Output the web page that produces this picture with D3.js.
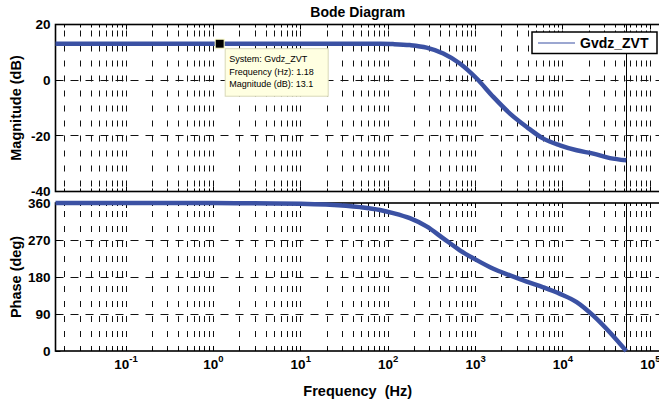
<!DOCTYPE html>
<html>
<head>
<meta charset="utf-8">
<script src="https://cdn.jsdelivr.net/npm/d3@7/dist/d3.min.js"></script>
<style>
  body { margin: 0; background: #fff; }
  svg { display: block; }
  text { font-family: "Liberation Sans", Arial, Helvetica, sans-serif; fill: #000; }
</style>
</head>
<body>
<svg id="chart" width="659" height="405"></svg>
<script>
// Frequency response of Gvdz_ZVT (discrete-time, response stops at Nyquist)
const freqHz = [0.0156, 0.1, 1, 5, 10, 21.6, 47.5, 80.5, 114, 177, 275, 427, 661, 1030,
                1596, 2477, 3845, 5960, 9250, 14350, 22240, 34500, 53000];
const magnitudeDb = [13.1, 13.1, 13.1, 13.1, 13.1, 13.1, 13.1, 13.05, 12.95, 12.6, 11.7, 9.6, 6.0, 0.6,
                     -6.0, -12.0, -16.8, -21.0, -23.4, -25.2, -26.4, -28.0, -28.8];
const phaseDeg = [360, 360, 359.8, 359, 358, 356, 350, 343, 335.5, 323, 303, 274, 245, 221,
                  200, 184, 169, 155, 139, 119, 86, 45, 0];
const nyquistHz = 53000;

const freqDomain = [0.0156, 129000];
const decadeExponents = [-1, 0, 1, 2, 3, 4, 5];
const magDomain = [-40, 20];
const magTicks = [-40, -20, 0, 20];
const phaseDomain = [0, 360];
const phaseTicks = [0, 90, 180, 270, 360];

const seriesName = "Gvdz_ZVT";
const tipFreq = 1.18;
const tipMag = 13.1;
const tipLines = ["System: Gvdz_ZVT", "Frequency (Hz): 1.18", "Magnitude (dB): 13.1"];

const lineColor = "#3b51a3";
const svg = d3.select("#chart");

const left = 55.5, right = 660;
const x = d3.scaleLog().domain(freqDomain).range([left, right]);
// snap thin lines onto pixel centres so they render crisp
const px = v => Math.round(v - 0.5) + 0.5;

const magPanel = { top: 24.5, bottom: 191.5 };
const phasePanel = { top: 203, bottom: 351 };
const yMag = d3.scaleLinear().domain(magDomain).range([magPanel.bottom, magPanel.top]);
const yPhase = d3.scaleLinear().domain(phaseDomain).range([phasePanel.bottom, phasePanel.top]);

// every 1..9 x 10^k line inside the frequency range
const gridFreqs = [];
for (let k = -2; k <= 5; k++) {
  for (let m = 1; m <= 9; m++) {
    const f = m * Math.pow(10, k);
    if (f > freqDomain[0] && f < freqDomain[1]) gridFreqs.push({ f, major: m === 1 });
  }
}

function drawPanel(panel, y, ticks, dashOffset) {
  const g = svg.append("g");
  // vertical dashed grid
  g.selectAll("line.vgrid").data(gridFreqs).join("line")
    .attr("x1", d => px(x(d.f))).attr("x2", d => px(x(d.f)))
    .attr("y1", panel.top).attr("y2", panel.bottom)
    .attr("stroke", "#111").attr("stroke-width", 1)
    .attr("stroke-dasharray", "6,9").attr("stroke-dashoffset", dashOffset);
  // horizontal dashed grid at major ticks
  g.selectAll("line.hgrid").data(ticks.filter(t => y(t) > panel.top + 1 && y(t) < panel.bottom - 1)).join("line")
    .attr("x1", left).attr("x2", right)
    .attr("y1", d => px(y(d))).attr("y2", d => px(y(d)))
    .attr("stroke", "#111").attr("stroke-width", 1)
    .attr("stroke-dasharray", "8,7");
  // x ticks inside, bottom and top
  [panel.bottom, panel.top].forEach((yy, i) => {
    const dir = i === 0 ? -1 : 1;
    g.selectAll(null).data(gridFreqs).join("line")
      .attr("x1", d => px(x(d.f))).attr("x2", d => px(x(d.f)))
      .attr("y1", yy).attr("y2", d => yy + dir * (d.major ? 5 : 3))
      .attr("stroke", "#000").attr("stroke-width", 1);
  });
  // y ticks inside on the left
  g.selectAll(null).data(ticks).join("line")
    .attr("x1", left).attr("x2", left + 5)
    .attr("y1", d => px(y(d))).attr("y2", d => px(y(d)))
    .attr("stroke", "#000").attr("stroke-width", 1);
  // frame
  g.append("rect")
    .attr("x", left).attr("y", panel.top)
    .attr("width", right - left).attr("height", panel.bottom - panel.top)
    .attr("fill", "none").attr("stroke", "#000").attr("stroke-width", 1.6);
  // y tick labels
  g.selectAll(null).data(ticks).join("text")
    .attr("x", left - 5).attr("y", d => y(d))
    .attr("dy", "0.36em").attr("text-anchor", "end")
    .attr("font-size", 13.5).attr("font-weight", "bold")
    .text(d => d);
  // Nyquist frequency marker
  g.append("line")
    .attr("x1", px(x(nyquistHz))).attr("x2", px(x(nyquistHz)))
    .attr("y1", panel.top).attr("y2", panel.bottom)
    .attr("stroke", "#000").attr("stroke-width", 1);
  return g;
}

drawPanel(magPanel, yMag, magTicks, 9);
drawPanel(phasePanel, yPhase, phaseTicks, 7);

const pts = freqHz.map((f, i) => ({ f, mag: magnitudeDb[i], ph: phaseDeg[i] }));

svg.append("path").datum(pts)
  .attr("fill", "none").attr("stroke", lineColor).attr("stroke-width", 4.5)
  .attr("stroke-linejoin", "round")
  .attr("d", d3.line().x(d => x(d.f)).y(d => yMag(d.mag)).curve(d3.curveMonotoneX));

svg.append("path").datum(pts)
  .attr("fill", "none").attr("stroke", lineColor).attr("stroke-width", 4.5)
  .attr("stroke-linejoin", "round")
  .attr("d", d3.line().x(d => x(d.f)).y(d => yPhase(d.ph)).curve(d3.curveMonotoneX));

// x tick labels 10^k
const xl = svg.selectAll("text.xtick").data(decadeExponents).join("text")
  .attr("class", "xtick")
  .attr("x", d => x(Math.pow(10, d))).attr("y", 369)
  .attr("text-anchor", "middle")
  .attr("font-size", 13.5).attr("font-weight", "bold");
xl.append("tspan").text("10");
xl.append("tspan").attr("dy", -7).attr("font-size", 9.5).text(d => d);

// titles and axis labels
svg.append("text").attr("x", (left + right) / 2).attr("y", 17)
  .attr("text-anchor", "middle").attr("font-size", 14).attr("font-weight", "bold")
  .text("Bode Diagram");
svg.append("text").attr("x", (left + right) / 2).attr("y", 396)
  .attr("text-anchor", "middle").attr("font-size", 14.5).attr("font-weight", "bold")
  .attr("xml:space", "preserve").style("white-space", "pre")
  .text("Frequency  (Hz)");
svg.append("text")
  .attr("transform", `translate(21,${(magPanel.top + magPanel.bottom) / 2}) rotate(-90)`)
  .attr("text-anchor", "middle").attr("font-size", 14.5).attr("font-weight", "bold")
  .text("Magnitude (dB)");
svg.append("text")
  .attr("transform", `translate(21,${(phasePanel.top + phasePanel.bottom) / 2}) rotate(-90)`)
  .attr("text-anchor", "middle").attr("font-size", 14.5).attr("font-weight", "bold")
  .text("Phase (deg)");

// legend
const lg = svg.append("g");
lg.append("rect").attr("x", 532).attr("y", 32).attr("width", 125).attr("height", 21.5)
  .attr("fill", "#fff").attr("stroke", "#000").attr("stroke-width", 1.5);
lg.append("line").attr("x1", 538).attr("x2", 575).attr("y1", 43).attr("y2", 43)
  .attr("stroke", lineColor).attr("stroke-width", 1.2);
lg.append("text").attr("x", 580).attr("y", 48.3)
  .attr("font-size", 14).attr("font-weight", "bold").text(seriesName);

// data tip
const tx = x(tipFreq), ty = yMag(tipMag);
const tg = svg.append("g");
tg.append("rect").attr("x", tx + 5.5).attr("y", ty + 5).attr("width", 103).attr("height", 47.5)
  .attr("fill", "#ffffe1").attr("stroke", "#d8d8b8").attr("stroke-width", 1);
tg.selectAll("text").data(tipLines).join("text")
  .attr("x", tx + 9.5).attr("y", (d, i) => ty + 18.5 + i * 12.5)
  .attr("font-size", 9).attr("fill", "#222").text(d => d);
tg.append("rect").attr("x", tx - 4.5).attr("y", ty - 4.5).attr("width", 9).attr("height", 9)
  .attr("fill", "#000").attr("stroke", "#ffffc8").attr("stroke-width", 1);
</script>
</body>
</html>
